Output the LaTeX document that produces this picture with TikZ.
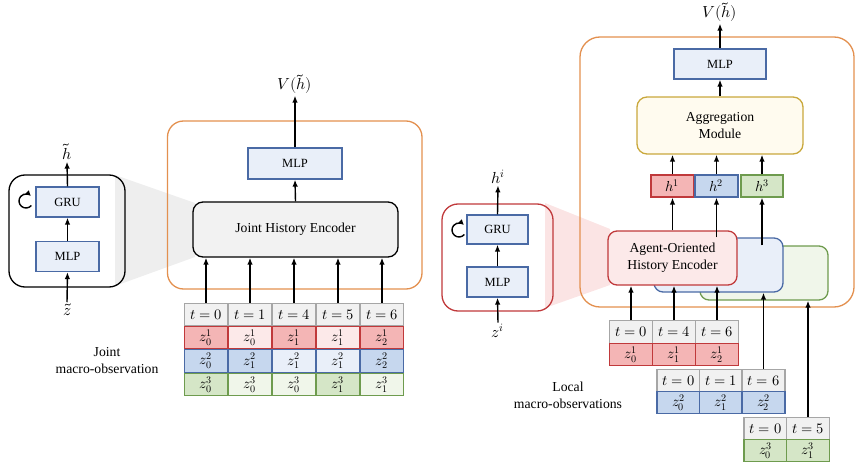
\documentclass[tikz,border=0pt]{standalone}
\usepackage{fontspec}
\usepackage{unicode-math}
\setmainfont{Liberation Serif}
\setmathfont{Latin Modern Math}
\usetikzlibrary{arrows.meta}
\definecolor{bfill}{HTML}{E9EFF9}
\definecolor{bdraw}{HTML}{4A6AA5}
\definecolor{rlight}{HTML}{FCE9E9}
\definecolor{rdark}{HTML}{F4B5B5}
\definecolor{rdraw}{HTML}{C0393B}
\definecolor{bdark}{HTML}{C6D7EE}
\definecolor{blight}{HTML}{E9EFF9}
\definecolor{gdark}{HTML}{D5E6C7}
\definecolor{glight}{HTML}{F0F6EA}
\definecolor{gdraw}{HTML}{6E9B4E}
\definecolor{tfill}{HTML}{F1F1F1}
\definecolor{tdraw}{HTML}{A6A6A6}
\definecolor{jfill}{HTML}{F2F2F2}
\definecolor{orng}{HTML}{E3904F}
\definecolor{afill}{HTML}{FFFBEF}
\definecolor{adraw}{HTML}{C9A83C}
\definecolor{wgrey}{HTML}{EEEEEE}
\definecolor{wpink}{HTML}{FBE4E4}
\tikzset{
  arr/.style={-{Latex[length=7pt,width=5.5pt]}, line width=1.4pt},
  loop/.style={-{Latex[length=5.5pt,width=5.5pt]}, line width=1.4pt},
  sbox/.style={draw=bdraw, fill=bfill, line width=1.2pt, minimum width=63pt, minimum height=30pt, inner sep=0pt, font=\fontsize{12.5}{14}\selectfont},
  cell/.style={draw, line width=1.2pt, minimum width=43pt, minimum height=22.5pt, inner sep=0pt, font=\fontsize{14.5}{15}\selectfont},
  tcell/.style={cell, draw=tdraw, fill=tfill},
  rc/.style={cell, draw=rdraw},
  bc/.style={cell, draw=bdraw},
  gc/.style={cell, draw=gdraw},
  lbl/.style={inner sep=1.5pt, font=\fontsize{16}{17}\selectfont},
  txt/.style={align=center, font=\fontsize{13.7}{17}\selectfont},
}
\begin{document}
\begin{tikzpicture}[x=1pt,y=-1pt]
\useasboundingbox (0,0) rectangle (860,468);
% ---------- wedges
\fill[wgrey] (115,175) -- (195,203) -- (195,257) -- (115,286) -- cycle;
\fill[wpink] (545,203) -- (610,229) -- (610,285) -- (545,308) -- cycle;
% ---------- left module
\node[draw=black, line width=1.3pt, rounded corners=16pt, minimum width=116pt, minimum height=112pt] (jbox) at (67,231) {};
\node[sbox] (gru1) at (67.5,202) {GRU};
\node[sbox] (mlp1) at (67.5,256.5) {MLP};
\draw[loop] (26,201) ++(40:7) arc (40:315:7);
\node[lbl] (htil) at (67,152) {$\tilde h$};
\node[lbl] (ztil) at (67,310) {$\tilde z$};
\draw[arr] (gru1.north) -- (htil.south);
\draw[arr] (mlp1.north) -- (gru1.south);
\draw[arr] (ztil.north) -- (mlp1.south);
\node[txt] (jlab) at (107,361) {Joint\\macro-observation};
% ---------- joint critic
\draw[orng, line width=1.3pt, rounded corners=16pt] (167.5,121) rectangle (422,289);
\node[draw=black, fill=jfill, line width=1.3pt, rounded corners=10pt, minimum width=205pt, minimum height=55pt, txt] (jhe) at (295.5,229.5) {Joint History Encoder};
\node[sbox, minimum width=94pt, minimum height=31pt] (mlp2) at (295,163.5) {MLP};
\node[lbl] (v1) at (295,84) {$V(\tilde h)$};
\draw[arr] (jhe.north) -- (mlp2.south);
\draw[arr] (mlp2.north) -- (v1.south);
% joint table
\foreach \i/\x/\t in {0/206/0,1/250/1,2/294/4,3/338/5,4/382/6}{
  \node[tcell] (jt\i) at (\x,314.5) {$t=\t$};
  \draw[arr] (jt\i.north) -- (jt\i.north |- jhe.south);
}
\node[rc, fill=rdark]  (j10) at (206,337.5) {$z_0^1$};
\node[rc, fill=rlight] (j11) at (250,337.5) {$z_0^1$};
\node[rc, fill=rdark]  (j12) at (294,337.5) {$z_1^1$};
\node[rc, fill=rlight] (j13) at (338,337.5) {$z_1^1$};
\node[rc, fill=rdark]  (j14) at (382,337.5) {$z_2^1$};
\node[bc, fill=bdark]  (j20) at (206,361) {$z_0^2$};
\node[bc, fill=bdark]  (j21) at (250,361) {$z_1^2$};
\node[bc, fill=blight] (j22) at (294,361) {$z_1^2$};
\node[bc, fill=blight] (j23) at (338,361) {$z_1^2$};
\node[bc, fill=bdark]  (j24) at (382,361) {$z_2^2$};
\node[gc, fill=gdark]  (j30) at (206,384.5) {$z_0^3$};
\node[gc, fill=glight] (j31) at (250,384.5) {$z_0^3$};
\node[gc, fill=glight] (j32) at (294,384.5) {$z_0^3$};
\node[gc, fill=gdark]  (j33) at (338,384.5) {$z_1^3$};
\node[gc, fill=glight] (j34) at (382,384.5) {$z_1^3$};
% ---------- agent module
\node[draw=rdraw, line width=1.3pt, rounded corners=16pt, minimum width=111pt, minimum height=107pt] (abox) at (497.5,257.5) {};
\node[sbox, minimum width=61pt, minimum height=29pt] (gru2) at (497.5,229.5) {GRU};
\node[sbox, minimum width=61pt, minimum height=30pt] (mlp3) at (497.5,282) {MLP};
\draw[loop] (459,230) ++(40:7) arc (40:315:7);
\node[lbl] (hi) at (498,177) {$h^i$};
\node[lbl] (zi) at (498,331) {$z^i$};
\draw[arr] (gru2.north) -- (hi.south);
\draw[arr] (mlp3.north) -- (gru2.south);
\draw[arr] (zi.north) -- (mlp3.south);
% ---------- decentralized critic
\draw[orng, line width=1.3pt, rounded corners=20pt] (580,37) rectangle (854,307);
\node[draw=gdraw, fill=glight, line width=1.3pt, rounded corners=9pt, minimum width=128pt, minimum height=54pt] (gbox) at (764,273) {};
\node[draw=bdraw, fill=bfill, line width=1.3pt, rounded corners=9pt, minimum width=129pt, minimum height=54pt] (bbox) at (718.5,265) {};
\node[draw=rdraw, fill=rlight, line width=1.3pt, rounded corners=9pt, minimum width=129pt, minimum height=54pt, txt] (aohe) at (672.5,258) {Agent-Oriented\\History Encoder};
\node[draw=adraw, fill=afill, line width=1.3pt, rounded corners=10pt, minimum width=166pt, minimum height=57pt, txt] (agg) at (720,125.5) {Aggregation\\Module};
\node[sbox, minimum width=92pt, minimum height=30pt] (mlp4) at (720,64) {MLP};
\node[lbl] (v2) at (720,12) {$V(\tilde h)$};
\draw[arr] (agg.north) -- (mlp4.south);
\draw[arr] (mlp4.north) -- (v2.south);
\node[cell, draw=rdraw, fill=rdark, minimum width=43pt, minimum height=22pt] (h1) at (672.5,186) {$h^1$};
\node[cell, draw=bdraw, fill=bdark, minimum width=43pt, minimum height=22pt] (h2) at (716.5,186) {$h^2$};
\node[cell, draw=gdraw, fill=gdark, minimum width=42pt, minimum height=22pt] (h3) at (762,186) {$h^3$};
\foreach \h in {h1,h2,h3}{\draw[arr] (\h.north) -- (\h.north |- agg.south);}
\draw[arr] (h1.south |- aohe.north) -- (h1.south);
\draw[arr] (h2.south |- bbox.north) -- (h2.south);
\draw[arr] (h3.south |- gbox.north) -- (h3.south);
% red table
\foreach \i/\x/\t in {0/631/0,1/674/4,2/717/6}{
  \node[tcell] (rt\i) at (\x,332) {$t=\t$};
  \draw[arr] (rt\i.north) -- (rt\i.north |- aohe.south);
}
\node[rc, fill=rdark] (r0) at (631,354.5) {$z_0^1$};
\node[rc, fill=rdark] (r1) at (674,354.5) {$z_1^1$};
\node[rc, fill=rdark] (r2) at (717,354.5) {$z_2^1$};
% blue table
\node[tcell] (bt0) at (678.5,380.5) {$t=0$};
\node[tcell] (bt1) at (721,380.5) {$t=1$};
\node[tcell] (bt2) at (763.5,380.5) {$t=6$};
\node[bc, fill=bdark] (b0) at (678.5,402.5) {$z_0^2$};
\node[bc, fill=bdark] (b1) at (721,402.5) {$z_1^2$};
\node[bc, fill=bdark] (b2) at (763.5,402.5) {$z_2^2$};
\draw[arr] (bt2.north) -- (bt2.north |- bbox.south);
% green table
\node[tcell] (gt0) at (765.5,428.5) {$t=0$};
\node[tcell] (gt1) at (808,428.5) {$t=5$};
\node[gc, fill=gdark] (g0) at (765.5,450.5) {$z_0^3$};
\node[gc, fill=gdark] (g1) at (808,450.5) {$z_1^3$};
\draw[arr] (gt1.north) -- (gt1.north |- gbox.south);
\node[txt] (llab) at (568,395) {Local\\macro-observations};
\end{tikzpicture}
\end{document}
